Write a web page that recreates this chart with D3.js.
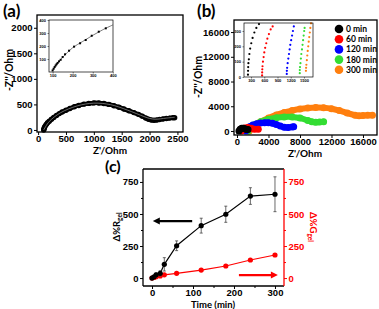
<!DOCTYPE html>
<html>
<head>
<meta charset="utf-8">
<script src="https://cdn.jsdelivr.net/npm/d3@7"></script>
<style>
  body { margin: 0; background: #fff; }
  svg { display: block; font-family: Lato, "Open Sans", sans-serif; font-weight: bold; }
</style>
</head>
<body>
<svg id="fig" width="379" height="309"></svg>
<script>
// ---------- datos (a) ----------
const a_ticksX = [0, 500, 1000, 1500, 2000, 2500];
const a_ticksY = [0, 500, 1000, 1500, 2000];
const a_puntos = [[100,0],[105,20],[110,40],[120,65],[135,90],[150,115],[170,140],[200,170],[240,210],[280,245],
  [330,285],[380,320],[430,350],[500,385],[570,420],[650,455],[730,480],[820,505],[910,520],[1000,530],
  [1090,528],[1180,518],[1270,500],[1360,475],[1450,445],[1540,410],[1630,375],[1720,340],[1800,305],
  [1870,270],[1930,235],[1980,210],[2030,195],[2080,190],[2130,195],[2180,205],[2240,215],[2300,225],
  [2360,232],[2420,238],[2450,240]];
const a_ajuste = [[100,0],[200,165],[400,335],[700,470],[1000,525],[1300,495],[1600,390],[1900,262],
  [2000,225],[2100,210],[2200,218],[2300,232],[2450,248]];
const a_insetTicks = [100, 200, 300, 400];
const a_insetPuntos = [[100,12],[105,25],[110,38],[115,50],[120,60],[125,70],[132,82],[140,94],[150,115],
  [162,136],[182,164],[207,195],[237,221],[265,246],[295,279],[330,310],[365,336]];
const a_insetAjuste = [[100,10],[120,58],[150,113],[200,187],[250,235],[300,282],[350,325],[400,362]];

// ---------- datos (b) ----------
const b_ticksX = [0, 4000, 8000, 12000, 16000];
const b_ticksY = [0, 4000, 8000, 12000, 16000];
const b_etiquetas = ["0 min", "60 min", "120 min", "180 min", "300 min"];
const b_0min = [[250,0],[400,300],[600,450],[800,450],[1000,350],[1200,250],[1400,250]];
const b_60min = [[550,0],[700,300],[1000,500],[1400,550],[1800,450],[2200,300],[2700,300]];
const b_120min = [[1100,0],[1300,400],[1600,700],[2000,950],[2500,1150],[3000,1280],[3500,1350],[4000,1350],
  [4500,1250],[5000,1050],[5500,800],[6000,600],[6500,550],[7000,650],[7200,700]];
const b_180min = [[1400,0],[1700,500],[2200,1000],[3000,1500],[4000,1900],[5000,2150],[6000,2280],[7000,2280],
  [8000,2100],[9000,1700],[9500,1500],[10000,1400],[10500,1450],[11000,1500]];
const b_300min = [[1550,0],[2000,600],[2500,1100],[3000,1500],[4000,2100],[5000,2600],[6000,3000],[7000,3300],
  [8000,3550],[9000,3700],[10000,3780],[11000,3750],[12000,3600],[13000,3300],[14000,2900],[15000,2550],
  [15500,2450],[16000,2500],[16600,2550],[17200,2550]];
const b_insetTicksX = [300, 600, 900, 1200, 1500];
const b_insetTicksY = [0, 100, 200, 300];
const b_in0 = [[230,15],[232,40],[235,65],[240,90],[250,115],[262,150],[280,185],[305,220],[335,255],[375,290],[420,320],[480,345]];
const b_in60 = [[550,10],[552,30],[555,50],[560,70],[570,100],[585,130],[600,160],[620,190],[645,220],[670,250],[705,280],[745,310],[790,330]];
const b_in120 = [[1110,20],[1112,40],[1118,60],[1130,90],[1145,120],[1160,150],[1175,180],[1190,210],[1210,240],[1230,270],[1250,300],[1270,330]];
const b_in180 = [[1405,25],[1405,45],[1410,65],[1420,90],[1430,120],[1440,150],[1455,180],[1468,210],[1480,240],[1493,270],[1505,300],[1515,320]];
const b_in300 = [[1545,40],[1548,60],[1555,80],[1565,110],[1575,140],[1585,170],[1597,200],[1608,230],[1620,260],[1633,290],[1645,320],[1660,350]];

// ---------- datos (c) ----------
const c_ticksX = [0, 100, 200, 300];
const c_ticksY = [0, 250, 500, 750];
const c_tiempo = [0, 5, 10, 20, 30, 60, 120, 180, 240, 300];
const c_R = [0, 10, 25, 37, 107, 252, 409, 498, 640, 654];
const c_Rerr = [0, 8, 15, 20, 52, 38, 58, 63, 65, 136];
const c_G = [0, 5, 10, 17, 25, 37, 62, 94, 141, 180];
const c_Gerr = [0, 3, 4, 5, 6, 6, 6, 7, 8, 10];

const coloresB = ["#000000", "#ff0000", "#0000ff", "#33dd33", "#ff7f0e"];
const svg = d3.select("#fig");

function marco(x0, y0, x1, y1, grosor) {
  svg.append("rect")
    .attr("x", x0).attr("y", y0)
    .attr("width", x1 - x0).attr("height", y1 - y0)
    .attr("fill", "none").attr("stroke", "black").attr("stroke-width", grosor);
}

function ejes(g, x, y, ticksX, ticksY, tam, tamFuente, fmt) {
  const ax = g.append("g")
    .attr("transform", `translate(0,${y.range()[0]})`)
    .call(d3.axisBottom(x).tickValues(ticksX).tickSize(tam).tickSizeOuter(0).tickPadding(0.5).tickFormat(fmt));
  const ay = g.append("g")
    .attr("transform", `translate(${x.range()[0]},0)`)
    .call(d3.axisLeft(y).tickValues(ticksY).tickSize(tam).tickSizeOuter(0).tickPadding(1.5).tickFormat(fmt));
  [ax, ay].forEach(a => {
    a.select(".domain").remove();
    a.selectAll("text").style("font-size", tamFuente + "px").attr("fill", "black");
    a.selectAll("line").attr("stroke", "black");
  });
  return [ax, ay];
}

function panelA() {
  const x = d3.scaleLinear().domain([-20, 2600]).range([37, 183]);
  const y = d3.scaleLinear().domain([-40, 2250]).range([132, 15]);
  const g = svg.append("g");
  ejes(g, x, y, a_ticksX, a_ticksY, 3, 9.5, d3.format("d"));

  const linea = d3.line().x(d => x(d[0])).y(d => y(d[1])).curve(d3.curveCatmullRom);
  g.append("path").datum(a_puntos).attr("d", linea)
    .attr("fill", "none").attr("stroke", "black").attr("stroke-width", 4.5);
  g.selectAll(".pa").data(a_puntos).enter().append("circle")
    .attr("cx", d => x(d[0])).attr("cy", d => y(d[1])).attr("r", 2.7).attr("fill", "black");
  g.append("path").datum(a_ajuste).attr("d", linea)
    .attr("fill", "none").attr("stroke", "#888").attr("stroke-width", 0.8);
  marco(37, 15, 183, 132, 1.3);

  // inset
  const xi = d3.scaleLinear().domain([82, 401]).range([49, 113]);
  const yi = d3.scaleLinear().domain([0, 400]).range([72, 20]);
  const gi = svg.append("g");
  gi.append("rect").attr("x", 49).attr("y", 20).attr("width", 64).attr("height", 52).attr("fill", "white");
  const [ix, iy] = ejes(gi, xi, yi, a_insetTicks, a_insetTicks, 1.5, 4, d3.format("d"));
  ix.selectAll("line").attr("stroke-width", 0.5);
  iy.selectAll("line").attr("stroke-width", 0.5);
  const lineaI = d3.line().x(d => xi(d[0])).y(d => yi(d[1])).curve(d3.curveCatmullRom);
  gi.append("path").datum(a_insetAjuste).attr("d", lineaI)
    .attr("fill", "none").attr("stroke", "#444").attr("stroke-width", 0.7);
  gi.selectAll("rect.m").data(a_insetPuntos).enter().append("rect").attr("class", "m")
    .attr("x", d => xi(d[0]) - 1).attr("y", d => yi(d[1]) - 1)
    .attr("width", 2).attr("height", 2).attr("fill", "black");
  marco(49, 20, 113, 72, 0.7);

  svg.append("text").attr("x", 3).attr("y", 17).style("font-size", "17px").text("(a)");
  svg.append("text").attr("transform", "translate(13,70) rotate(-90)")
    .attr("text-anchor", "middle").style("font-size", "10.5px").text("-Z''/Ohm");
  svg.append("text").attr("x", 110).attr("y", 154)
    .attr("text-anchor", "middle").style("font-size", "10px").text("Z'/Ohm");
}

function panelB() {
  const x = d3.scaleLinear().domain([-380, 17780]).range([234, 377]);
  const y = d3.scaleLinear().domain([-650, 17950]).range([135, 20]);
  const g = svg.append("g");
  ejes(g, x, y, b_ticksX, b_ticksY, 3, 9.5, d3.format("d"));

  const series = [b_0min, b_60min, b_120min, b_180min, b_300min];
  const linea = d3.line().x(d => x(d[0])).y(d => y(d[1])).curve(d3.curveCatmullRom);
  [4, 3, 2, 1, 0].forEach(i => {
    g.append("path").datum(series[i]).attr("d", linea)
      .attr("fill", "none").attr("stroke", coloresB[i]).attr("stroke-width", 6).attr("stroke-linecap", "round");
    g.selectAll(null).data(series[i]).enter().append("circle")
      .attr("cx", d => x(d[0])).attr("cy", d => y(d[1])).attr("r", 3.5).attr("fill", coloresB[i]);
  });
  marco(234, 20, 377, 135, 1.3);

  // inset
  const xi = d3.scaleLinear().domain([140, 1705]).range([244, 313]);
  const yi = d3.scaleLinear().domain([0, 352]).range([77, 23]);
  const gi = svg.append("g");
  gi.append("rect").attr("x", 244).attr("y", 23).attr("width", 69).attr("height", 54).attr("fill", "white");
  const [ix, iy] = ejes(gi, xi, yi, b_insetTicksX, b_insetTicksY, 1.5, 4, d3.format("d"));
  ix.selectAll("line").attr("stroke-width", 0.5);
  iy.selectAll("line").attr("stroke-width", 0.5);
  [b_in0, b_in60, b_in120, b_in180, b_in300].forEach((s, i) => {
    gi.selectAll(null).data(s).enter().append("circle")
      .attr("cx", d => xi(d[0])).attr("cy", d => yi(d[1])).attr("r", 1.1).attr("fill", coloresB[i]);
  });
  marco(244, 23, 313, 77, 0.7);

  // leyenda
  const ley = svg.append("g");
  b_etiquetas.forEach((t, i) => {
    ley.append("circle").attr("cx", 339).attr("cy", 29 + i * 10.2).attr("r", 4.3).attr("fill", coloresB[i]);
    ley.append("text").attr("x", 346).attr("y", 32 + i * 10.2).style("font-size", "8.5px").text(t);
  });

  svg.append("text").attr("x", 197).attr("y", 17).style("font-size", "17px").text("(b)");
  svg.append("text").attr("transform", "translate(202,77) rotate(-90)")
    .attr("text-anchor", "middle").style("font-size", "10.5px").text("-Z''/Ohm");
  svg.append("text").attr("x", 305).attr("y", 157)
    .attr("text-anchor", "middle").style("font-size", "10px").text("Z'/Ohm");
}

function panelC() {
  const x = d3.scaleLinear().domain([-22, 322]).range([143, 284]);
  const y = d3.scaleLinear().domain([-62, 851]).range([286, 169]);
  const g = svg.append("g");
  ejes(g, x, y, c_ticksX, c_ticksY, 3, 9.5, d3.format("d"));

  // ticks menores
  const menor = g.append("g");
  menor.append("g").attr("transform", "translate(0,286)")
    .call(d3.axisBottom(x).tickValues([50, 150, 250]).tickSize(2).tickFormat(""));
  menor.append("g").attr("transform", "translate(143,0)")
    .call(d3.axisLeft(y).tickValues([125, 375, 625]).tickSize(2).tickFormat(""));
  menor.selectAll(".domain").remove();

  // eje derecho rojo
  const ad = g.append("g").attr("transform", "translate(284,0)")
    .call(d3.axisRight(y).tickValues(c_ticksY).tickSize(3).tickSizeOuter(0).tickPadding(1.5));
  ad.select(".domain").remove();
  ad.selectAll("line").attr("stroke", "red");
  ad.selectAll("text").attr("fill", "red").style("font-size", "9.5px");
  const adm = g.append("g").attr("transform", "translate(284,0)")
    .call(d3.axisRight(y).tickValues([125, 375, 625]).tickSize(2).tickFormat(""));
  adm.select(".domain").remove();
  adm.selectAll("line").attr("stroke", "red");

  svg.append("line").attr("x1", 143).attr("x2", 143).attr("y1", 169).attr("y2", 286).attr("stroke", "black").attr("stroke-width", 1.3);
  svg.append("line").attr("x1", 143).attr("x2", 284).attr("y1", 169).attr("y2", 169).attr("stroke", "black").attr("stroke-width", 1.3);
  svg.append("line").attr("x1", 143).attr("x2", 284).attr("y1", 286).attr("y2", 286).attr("stroke", "black").attr("stroke-width", 1.3);
  svg.append("line").attr("x1", 284).attr("x2", 284).attr("y1", 169).attr("y2", 286).attr("stroke", "red").attr("stroke-width", 1.3);

  const dibujarSerie = (vals, errs, color) => {
    const linea = d3.line().x((d, i) => x(c_tiempo[i])).y(d => y(d));
    g.append("path").datum(vals).attr("d", linea)
      .attr("fill", "none").attr("stroke", color).attr("stroke-width", 1.2);
    vals.forEach((v, i) => {
      const cx = x(c_tiempo[i]);
      if (errs[i] > 0) {
        g.append("line").attr("x1", cx).attr("x2", cx)
          .attr("y1", y(v - errs[i])).attr("y2", y(v + errs[i])).attr("stroke", color === "black" ? "#444" : color).attr("stroke-width", 0.8);
        [v - errs[i], v + errs[i]].forEach(e => {
          g.append("line").attr("x1", cx - 1.5).attr("x2", cx + 1.5)
            .attr("y1", y(e)).attr("y2", y(e)).attr("stroke", color === "black" ? "#444" : color).attr("stroke-width", 0.8);
        });
      }
      g.append("circle").attr("cx", cx).attr("cy", y(v)).attr("r", 2.6).attr("fill", color);
    });
  };
  dibujarSerie(c_G, c_Gerr, "red");
  dibujarSerie(c_R, c_Rerr, "black");

  // flechas
  const flecha = (t0, t1, v, color) => {
    const x0 = x(t0), x1 = x(t1), yy = y(v), dir = Math.sign(x1 - x0);
    g.append("line").attr("x1", x0).attr("x2", x1 - dir * 5).attr("y1", yy).attr("y2", yy)
      .attr("stroke", color).attr("stroke-width", 2.2);
    g.append("path").attr("d", `M${x1},${yy} L${x1 - dir * 7},${yy - 3.5} L${x1 - dir * 7},${yy + 3.5} Z`).attr("fill", color);
  };
  flecha(98, 2, 445, "black");
  flecha(212, 307, 23, "red");

  svg.append("text").attr("x", 105).attr("y", 172).style("font-size", "16px").text("(c)");
  svg.append("text").attr("x", 213).attr("y", 307.5)
    .attr("text-anchor", "middle").style("font-size", "9.5px").text("Time (min)");
  const tl = svg.append("text").attr("transform", "translate(120,227) rotate(-90)")
    .attr("text-anchor", "middle").style("font-size", "9.5px");
  tl.append("tspan").text("Δ%R");
  tl.append("tspan").attr("dy", 2).style("font-size", "6.5px").text("gel");
  const tr = svg.append("text").attr("transform", "translate(310,227) rotate(90)")
    .attr("text-anchor", "middle").attr("fill", "red").style("font-size", "9.5px");
  tr.append("tspan").text("Δ%G");
  tr.append("tspan").attr("dy", 2).style("font-size", "6.5px").text("gel");
}

panelA();
panelB();
panelC();
</script>
</body>
</html>
